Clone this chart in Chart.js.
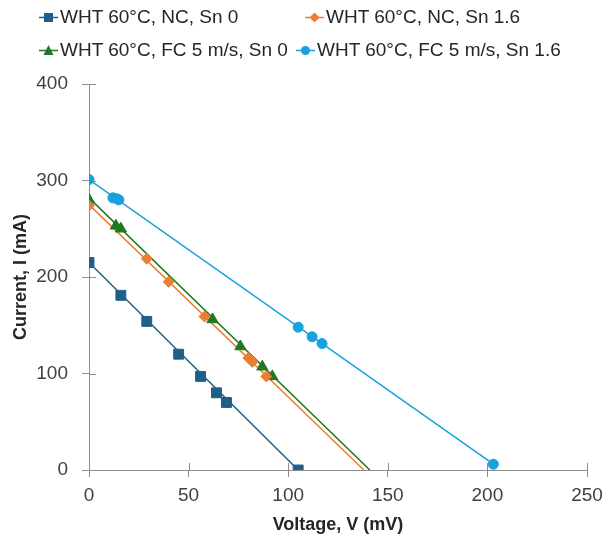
<!DOCTYPE html>
<html>
<head>
<meta charset="utf-8">
<script src="https://cdn.jsdelivr.net/npm/chart.js@4/dist/chart.umd.min.js"></script>
<style>
  html, body { margin: 0; padding: 0; background: #fff; }
  #wrap { position: relative; width: 604px; height: 541px; }
  #legend { position: absolute; left: 0; top: 0; width: 604px; height: 70px;
    font-family: "Liberation Sans", Arial, sans-serif; font-size: 19px; color: #262626; }
  .lg { position: absolute; display: flex; align-items: center; white-space: nowrap; line-height: 22px; }
  .lg svg { margin-right: 2px; }
</style>
</head>
<body>
<div id="wrap">
  <canvas id="c" width="604" height="541"></canvas>
  <div id="legend"></div>
</div>
<script>
(function () {
  "use strict";

  // Voltage (mV) / current (mA)
  var v_nc_sn0 = [0, 16, 29, 45, 56, 64, 69, 105];
  var i_nc_sn0 = [215, 181, 154, 120, 97, 80, 70, 0];
  var v_nc_sn16 = [0, 29, 40, 58, 80, 82, 89];
  var i_nc_sn16 = [274, 219, 195, 159, 116, 112, 97];
  var v_fc_sn0 = [0, 13.5, 16, 62, 76, 87, 92];
  var i_fc_sn0 = [280, 253, 250, 156, 128, 107, 97];
  var v_fc_sn16 = [0, 12, 14, 15, 105, 112, 117, 203];
  var i_fc_sn16 = [301, 282, 281, 280, 148, 138, 131, 6];

  // trendline end points
  var trend_nc_sn0 = [[0, 215], [105, 0]];
  var trend_nc_sn16 = [[0, 275], [138, 0]];
  var trend_fc_sn0 = [[0, 282], [141, 0]];
  var trend_fc_sn16 = [[0, 301], [203, 6]];

  var labels = ["WHT 60°C, NC, Sn 0", "WHT 60°C, NC, Sn 1.6", "WHT 60°C, FC 5 m/s, Sn 0", "WHT 60°C, FC 5 m/s, Sn 1.6"];
  var xTicks = [0, 50, 100, 150, 200, 250];
  var yTicks = [0, 100, 200, 300, 400];

  var colors = ["#1f5f88", "#ed7d31", "#217821", "#18a1dc"];
  var shapes = ["rect", "rectRot", "triangle", "circle"];
  var radii = [7, 5.5, 6.5, 5];
  var axisColor = "#8c8c8c";

  function pts(xs, ys) {
    return xs.map(function (x, k) { return { x: x, y: ys[k] }; });
  }
  function line(p) {
    return p.map(function (a) { return { x: a[0], y: a[1] }; });
  }

  var series = [
    [v_nc_sn0, i_nc_sn0, trend_nc_sn0],
    [v_nc_sn16, i_nc_sn16, trend_nc_sn16],
    [v_fc_sn0, i_fc_sn0, trend_fc_sn0],
    [v_fc_sn16, i_fc_sn16, trend_fc_sn16]
  ];

  var datasets = [];
  series.forEach(function (s, k) {
    datasets.push({
      label: labels[k] + " trend",
      data: line(s[2]),
      showLine: true,
      borderColor: colors[k],
      borderWidth: 1.5,
      pointRadius: 0,
      order: 2
    });
  });
  series.forEach(function (s, k) {
    datasets.push({
      label: labels[k],
      data: pts(s[0], s[1]),
      showLine: false,
      pointStyle: shapes[k],
      pointRadius: radii[k],
      backgroundColor: colors[k],
      borderColor: colors[k],
      borderWidth: 1,
      order: 1
    });
  });

  // ticks that cross the axis line, like the reference
  var innerTicks = {
    id: "innerTicks",
    beforeDatasetsDraw: function (chart) {
      var ctx = chart.ctx, a = chart.chartArea, sx = chart.scales.x, sy = chart.scales.y;
      ctx.save();
      ctx.strokeStyle = axisColor;
      ctx.lineWidth = 1;
      ctx.beginPath();
      sx.ticks.forEach(function (t, i) {
        var px = Math.round(sx.getPixelForTick(i)) + 0.5;
        ctx.moveTo(px, a.bottom);
        ctx.lineTo(px, a.bottom - 7);
      });
      sy.ticks.forEach(function (t, i) {
        var py = Math.round(sy.getPixelForTick(i)) + 0.5;
        ctx.moveTo(a.left, py);
        ctx.lineTo(a.left + 7, py);
      });
      ctx.stroke();
      ctx.restore();
    }
  };

  var tickFont = { family: "'Liberation Sans', Arial, sans-serif", size: 19 };
  var titleFont = { family: "'Liberation Sans', Arial, sans-serif", size: 18, weight: "bold" };

  new Chart(document.getElementById("c"), {
    type: "scatter",
    data: { datasets: datasets },
    plugins: [innerTicks],
    options: {
      responsive: false,
      animation: false,
      layout: { padding: { top: 84, right: 17, left: 0, bottom: 0 } },
      plugins: { legend: { display: false }, tooltip: { enabled: false } },
      scales: {
        x: {
          type: "linear",
          min: xTicks[0],
          max: xTicks[xTicks.length - 1],
          afterBuildTicks: function (s) { s.ticks = xTicks.map(function (v) { return { value: v }; }); },
          afterFit: function (s) { s.height = 71; s.paddingLeft = 0; s.paddingRight = 0; },
          ticks: { font: tickFont, color: "#404040", padding: 7 },
          grid: { drawOnChartArea: false, drawTicks: true, tickLength: 7, color: axisColor },
          border: { color: axisColor, width: 1 },
          title: { display: true, text: "Voltage, V (mV)", font: titleFont, color: "#262626", padding: { top: 4, bottom: 5 } }
        },
        y: {
          type: "linear",
          min: yTicks[0],
          max: yTicks[yTicks.length - 1],
          afterBuildTicks: function (s) { s.ticks = yTicks.map(function (v) { return { value: v }; }); },
          afterFit: function (s) { s.width = 89; s.paddingTop = 0; s.paddingBottom = 0; },
          ticks: { font: tickFont, color: "#404040", padding: 14 },
          grid: { drawOnChartArea: false, drawTicks: true, tickLength: 7, color: axisColor },
          border: { color: axisColor, width: 1 },
          title: { display: true, text: "Current, I (mA)", font: titleFont, color: "#262626", padding: { top: 10, bottom: 4 } }
        }
      }
    }
  });

  // legend: line + marker symbol, two rows like the reference
  function symbol(shape, color) {
    var m;
    if (shape === "rect") m = '<rect x="5" y="2" width="9" height="9" fill="' + color + '"/>';
    else if (shape === "rectRot") m = '<polygon points="9.5,1.5 14.5,6.5 9.5,11.5 4.5,6.5" fill="' + color + '"/>';
    else if (shape === "triangle") m = '<polygon points="9.5,1 14.5,11 4.5,11" fill="' + color + '"/>';
    else m = '<circle cx="9.5" cy="6.5" r="4.5" fill="' + color + '"/>';
    return '<svg width="19" height="13" viewBox="0 0 19 13"><line x1="0" y1="6.5" x2="19" y2="6.5" stroke="' +
      color + '" stroke-width="1.5"/>' + m + "</svg>";
  }
  var spots = [[39, 6], [305, 6], [39, 39], [296, 39]];
  var lg = document.getElementById("legend");
  labels.forEach(function (t, k) {
    var d = document.createElement("div");
    d.className = "lg";
    d.style.left = spots[k][0] + "px";
    d.style.top = spots[k][1] + "px";
    d.innerHTML = symbol(shapes[k], colors[k]) + "<span>" + t + "</span>";
    lg.appendChild(d);
  });
})();
</script>
</body>
</html>
